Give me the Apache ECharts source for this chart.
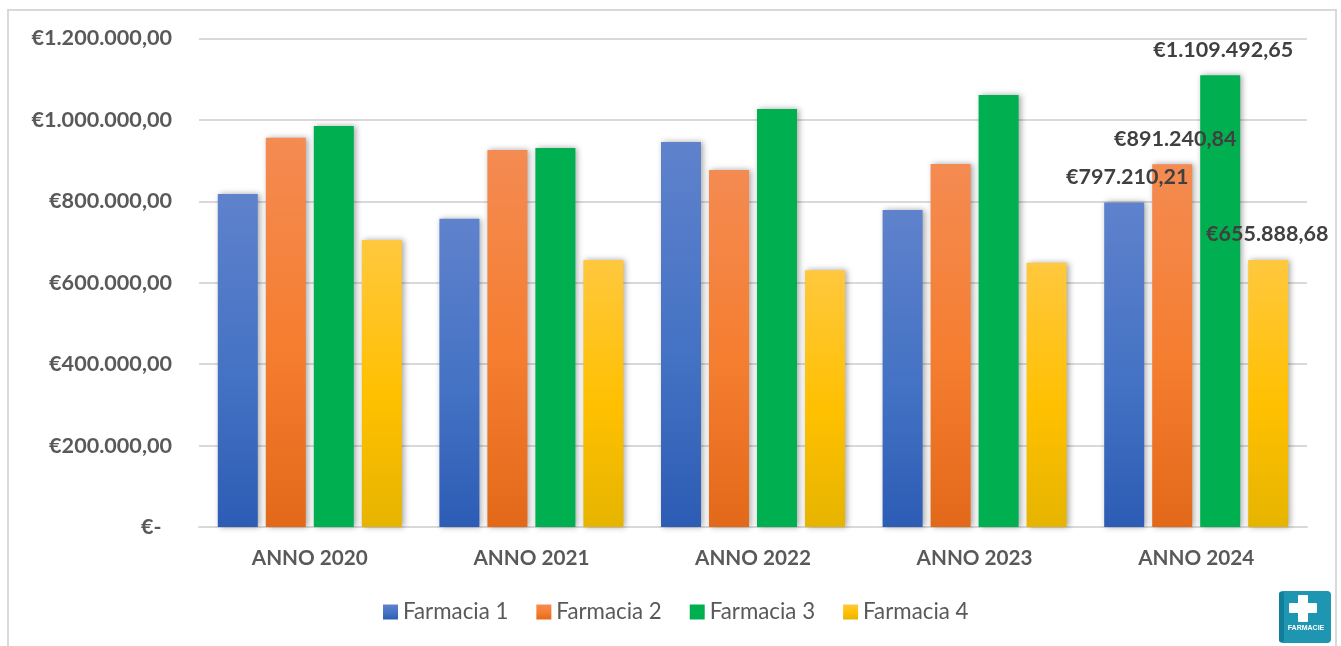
<!DOCTYPE html>
<html><head><meta charset="utf-8">
<style>html,body{margin:0;padding:0;background:#fff;overflow:hidden}#c{width:1341px;height:646px}</style>
<script src="https://cdn.jsdelivr.net/npm/echarts@6/dist/echarts.min.js"></script>
</head><body><div id="c"></div>
<script>
const categories = ['ANNO 2020','ANNO 2021','ANNO 2022','ANNO 2023','ANNO 2024'];
const farmacia1 = [818000, 757000, 946000, 779000, 797210.21];
const farmacia2 = [956000, 926000, 877000, 892000, 891240.84];
const farmacia3 = [985000, 931000, 1027000, 1061000, 1109492.65];
const farmacia4 = [705000, 656000, 631000, 649000, 655888.68];
const seriesNames = ['Farmacia 1','Farmacia 2','Farmacia 3','Farmacia 4'];
const seriesValues = [farmacia1, farmacia2, farmacia3, farmacia4];
const gradients = [
  ['#5F82CC','#4472C4','#2C5CB4'],
  ['#F48B52','#F57D2F','#E3691A'],
  ['#00B050','#00B050','#00B050'],
  ['#FFC83E','#FFC000','#E6B400']
];
const labelOffsets = [[3,1],[3,1],[3,1],[-1,0]];
const fontFamily = 'Lato, "Open Sans", sans-serif';
const euro = v => v === 0 ? '€-  ' : '€' + v.toFixed(2).replace('.', ',').replace(/\B(?=(\d{3})+(?!\d))/g, '.');
const grad = g => new echarts.graphic.LinearGradient(0,0,0,1,[
  {offset:0,color:g[0]},{offset:0.55,color:g[1]},{offset:1,color:g[2]}]);
const chart = echarts.init(document.getElementById('c'), null, {renderer:'canvas'});
chart.setOption({
  animation:false,
  backgroundColor:'#fff',
  grid:{left:199,right:34,top:38.5,bottom:119},
  legend:{
    data:seriesNames, left:383, top:601, padding:0, itemWidth:15, itemHeight:15, itemGap:28,
    icon:'rect',
    textStyle:{fontFamily,fontSize:22.3,color:'#595959'}
  },
  xAxis:{
    type:'category', data:categories,
    axisTick:{show:false},
    axisLine:{lineStyle:{color:'#D9D9D9',width:2}},
    axisLabel:{fontFamily,fontSize:20.7,fontWeight:'bold',color:'#595959',margin:21}
  },
  yAxis:{
    type:'value', min:0, max:1200000, interval:200000,
    axisLine:{show:false}, axisTick:{show:false},
    splitLine:{lineStyle:{color:'#D9D9D9',width:2}},
    axisLabel:{fontFamily,fontSize:21.6,fontWeight:'bold',color:'#595959',margin:27,padding:[3,0,0,0],formatter:v=>euro(v)}
  },
  series:seriesNames.map((name,i)=>({
    name,type:'bar',barWidth:40,barGap:'20%',
    itemStyle:{color:grad(gradients[i]),shadowColor:'rgba(0,0,0,0.35)',shadowBlur:6,shadowOffsetX:2,shadowOffsetY:0},
    data:seriesValues[i].map((v,j)=>j===categories.length-1?{
      value:v,
      label:{show:true,position:'top',distance:15,offset:labelOffsets[i],formatter:euro(v),fontFamily,fontSize:21.5,fontWeight:'bold',color:'#404040'}
    }:v)
  })),
  graphic:[
    {type:'rect',silent:true,z:100,shape:{x:8,y:10,width:1328,height:650},style:{fill:'none',stroke:'#D9D9D9',lineWidth:2}},
    {type:'group',z:101,left:1279,top:591,children:[
      {type:'rect',shape:{x:0,y:0,width:52,height:52,r:4},style:{fill:'#1E95B1'}},
      {type:'rect',shape:{x:0,y:1,width:5,height:50,r:2},style:{fill:'#137E99'}},
      {type:'rect',shape:{x:19,y:4,width:10,height:27,r:1},style:{fill:'#fff'}},
      {type:'rect',shape:{x:10,y:12,width:28,height:10,r:1},style:{fill:'#fff'}},
      {type:'text',style:{x:27,y:34,text:'FARMACIE',fill:'#fff',font:'bold 7px "Liberation Sans Narrow","Liberation Sans",sans-serif',align:'center'}}
    ]}
  ]
});
</script></body></html>
